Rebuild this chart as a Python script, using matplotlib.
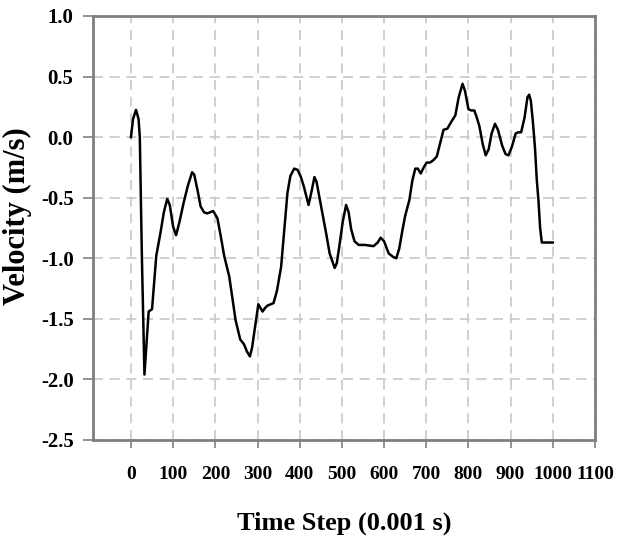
import numpy as np
import matplotlib.pyplot as plt

# values
time_step = [0, 5, 12, 18, 21, 26, 32, 37, 42, 50, 55, 60, 70, 78, 86, 92, 100, 107,
             115, 125, 135, 145, 150, 158, 165, 173, 181, 195, 205, 213, 221, 233,
             240, 248, 259, 268, 275, 282, 287, 292, 302, 312, 318, 324, 338, 346,
             356, 364, 371, 378, 387, 395, 403, 410, 421, 428, 435, 440, 448, 455,
             463, 471, 483, 488, 494, 502, 510, 516, 522, 530, 540, 555, 575, 585,
             592, 600, 611, 622, 629, 636, 643, 650, 660, 667, 674, 680, 687, 694,
             701, 709, 717, 725, 733, 741, 750, 760, 769, 777, 786, 792, 800, 807,
             814, 820, 826, 834, 841, 848, 855, 863, 870, 880, 888, 895, 903, 912,
             918, 925, 933, 940, 944, 948, 953, 958, 962, 966, 970, 974, 986, 1000]
velocity = [0.0, 0.15, 0.225, 0.15, 0.0, -1.0, -1.96, -1.7, -1.44, -1.42, -1.2, -0.98,
            -0.79, -0.62, -0.51, -0.56, -0.74, -0.81, -0.70, -0.54, -0.40, -0.29,
            -0.31, -0.44, -0.57, -0.62, -0.63, -0.61, -0.67, -0.82, -0.98, -1.15,
            -1.32, -1.51, -1.67, -1.71, -1.77, -1.81, -1.74, -1.62, -1.38, -1.44,
            -1.41, -1.39, -1.37, -1.27, -1.07, -0.75, -0.46, -0.32, -0.26, -0.27,
            -0.33, -0.41, -0.56, -0.45, -0.33, -0.37, -0.52, -0.65, -0.80, -0.96,
            -1.08, -1.04, -0.90, -0.70, -0.56, -0.62, -0.76, -0.86, -0.89, -0.89,
            -0.90, -0.87, -0.83, -0.86, -0.96, -0.99, -1.00, -0.92, -0.78, -0.65,
            -0.52, -0.36, -0.26, -0.26, -0.30, -0.25, -0.21, -0.21, -0.19, -0.16,
            -0.05, 0.06, 0.07, 0.13, 0.18, 0.33, 0.44, 0.38, 0.23, 0.22, 0.22, 0.16,
            0.09, -0.06, -0.15, -0.10, 0.03, 0.11, 0.06, -0.07, -0.14, -0.15, -0.08,
            0.03, 0.04, 0.04, 0.16, 0.33, 0.35, 0.30, 0.12, -0.10, -0.35, -0.52,
            -0.75, -0.87, -0.87, -0.87]

x_ticks = np.arange(0, 1101, 100)
y_ticks = np.arange(-2.5, 1.01, 0.5)

plt.rcParams['font.family'] = ['Liberation Serif', 'DejaVu Serif']
plt.rcParams['font.weight'] = 'bold'

fig = plt.figure(figsize=(6.17, 5.38), dpi=100)
ax = fig.add_axes([0.1507, 0.1822, 0.8136, 0.7881])

ax.plot(time_step, velocity, color='black', lw=1.8, solid_joinstyle='round')

ax.set_xlim(-90, 1100)
ax.set_ylim(-2.5, 1.0)
ax.set_xticks(x_ticks)
ax.set_yticks(y_ticks)
ax.set_yticklabels(['%.1f' % v for v in y_ticks])

ax.grid(True, color='#c8c8c8', linestyle=(0, (6, 4)), linewidth=1.2)
ax.set_axisbelow(True)

for s in ax.spines.values():
    s.set_color('#7f7f7f')
    s.set_linewidth(2)

ax.tick_params(axis='x', direction='out', length=6, width=1.2, color='#7f7f7f',
               pad=13, labelsize=14)
ax.tick_params(axis='y', direction='out', length=7, width=1.2, color='#7f7f7f',
               pad=7, labelsize=15)
for lab in ax.get_xticklabels() + ax.get_yticklabels():
    lab.set_fontweight('bold')

ax.set_xlabel('Time Step (0.001 s)', fontsize=19, fontweight='bold')
ax.xaxis.set_label_coords(0.5, -0.17)
ax.set_ylabel('Velocity (m/s)', fontsize=22, fontweight='bold')
ax.yaxis.set_label_coords(-0.122, 0.528)

fig.savefig('out.png', dpi=100)
